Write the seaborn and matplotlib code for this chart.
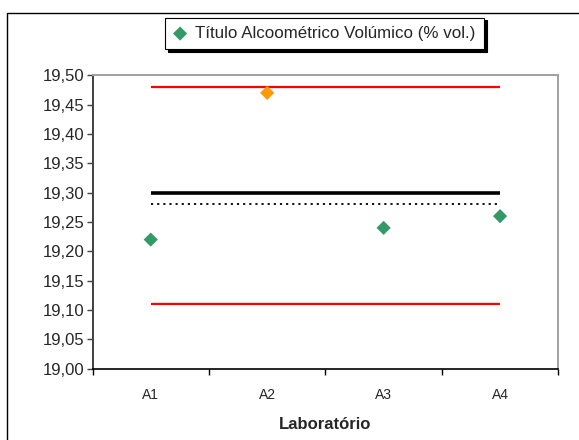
import numpy as np
import pandas as pd
import matplotlib
matplotlib.use("Agg")
import matplotlib.pyplot as plt
import matplotlib.patches as mpatches
from matplotlib.ticker import FuncFormatter, FixedLocator
import seaborn as sns

# ── dados ─────────────────────────────────────────────
labs = ["A1", "A2", "A3", "A4"]
valores = [19.22, 19.47, 19.24, 19.26]
fora = [False, True, False, False]          # A2 destacado a laranja
limite_sup = 19.48
limite_inf = 19.11
valor_ref = 19.30
media = 19.28
serie_nome = "Título Alcoométrico Volúmico (% vol.)"
eixo_x = "Laboratório"
y_ticks = [19.00, 19.05, 19.10, 19.15, 19.20, 19.25, 19.30, 19.35, 19.40, 19.45, 19.50]

VERDE = "#339966"
LARANJA = "#FF9900"
VERMELHO = "#FF0000"

sns.set_style("white")
plt.rcParams["font.family"] = ["Liberation Sans", "DejaVu Sans"]

pos = np.arange(len(labs))
df = pd.DataFrame({"pos": pos, "lab": labs, "valor": valores, "fora": fora})

fig = plt.figure(figsize=(5.79, 4.40), dpi=100)
ax = fig.add_axes([92.5 / 579, 1 - 368.7 / 440, 465.8 / 579, 293.4 / 440])

# linhas de referência
for val, cor, lw in [(limite_sup, VERMELHO, 1.6),
                     (limite_inf, VERMELHO, 1.6),
                     (valor_ref, "black", 2.6)]:
    sns.lineplot(x=pos, y=[val] * len(labs), color=cor, linewidth=lw,
                 ax=ax, legend=False, solid_capstyle="butt")
sns.lineplot(x=pos, y=[media] * len(labs), color="black", linewidth=1.3,
             ax=ax, legend=False)
ax.lines[-1].set_dashes((1.2, 2.2))

# pontos
sns.scatterplot(data=df[~df.fora], x="pos", y="valor", color=VERDE, marker="D",
                s=52, edgecolor="none", ax=ax, label=serie_nome, zorder=5)
sns.scatterplot(data=df[df.fora], x="pos", y="valor", color=LARANJA, marker="D",
                s=52, edgecolor="none", ax=ax, legend=False, zorder=5)

ax.set_xlim(-0.5, len(labs) - 0.5)
ax.set_ylim(19.0, 19.5)

# eixo y
ax.yaxis.set_major_locator(FixedLocator(y_ticks))
ax.yaxis.set_major_formatter(FuncFormatter(lambda v, p: f"{v:.2f}".replace(".", ",")))
ax.tick_params(axis="y", which="major", direction="out", length=4, width=1,
               color="#404040", labelsize=12, pad=2, left=True)
ax.set_ylabel("")

# eixo x: marcas entre categorias, rótulos no centro
ax.set_xticks(np.arange(-0.5, len(labs), 1.0))
ax.set_xticklabels([])
ax.set_xticks(pos, minor=True)
ax.set_xticklabels(labs, minor=True)
ax.tick_params(axis="x", which="major", direction="out", length=4, width=1,
               color="black", bottom=True)
ax.tick_params(axis="x", which="minor", length=0, labelsize=10, pad=14)
ax.set_xlabel(eixo_x, fontsize=12, fontweight="bold", labelpad=11)

for lado in ["top", "right"]:
    ax.spines[lado].set_color("#A0A0A0")
    ax.spines[lado].set_linewidth(1.4)
ax.spines["left"].set_color("#404040")
ax.spines["left"].set_linewidth(1.4)
ax.spines["bottom"].set_color("black")
ax.spines["bottom"].set_linewidth(1.2)

# legenda com sombra
leg = ax.legend(loc="center", bbox_to_anchor=(324.5 / 579, 1 - 33.5 / 440),
                bbox_transform=fig.transFigure, frameon=True, fancybox=False,
                shadow={"color": "black", "alpha": 1.0}, fontsize=12.2,
                handlelength=0.8, handletextpad=0.5, borderpad=0.5,
                borderaxespad=0)
leg.get_frame().set_edgecolor("black")
leg.get_frame().set_linewidth(0.8)
leg.get_frame().set_facecolor("white")

# moldura exterior
fig.patches.append(mpatches.Rectangle((7.5 / 579, -0.1), 1.2, 1.1 - 13.5 / 440,
                                      transform=fig.transFigure, fill=False,
                                      edgecolor="black", linewidth=1.0))

fig.savefig("out.png", dpi=100)
